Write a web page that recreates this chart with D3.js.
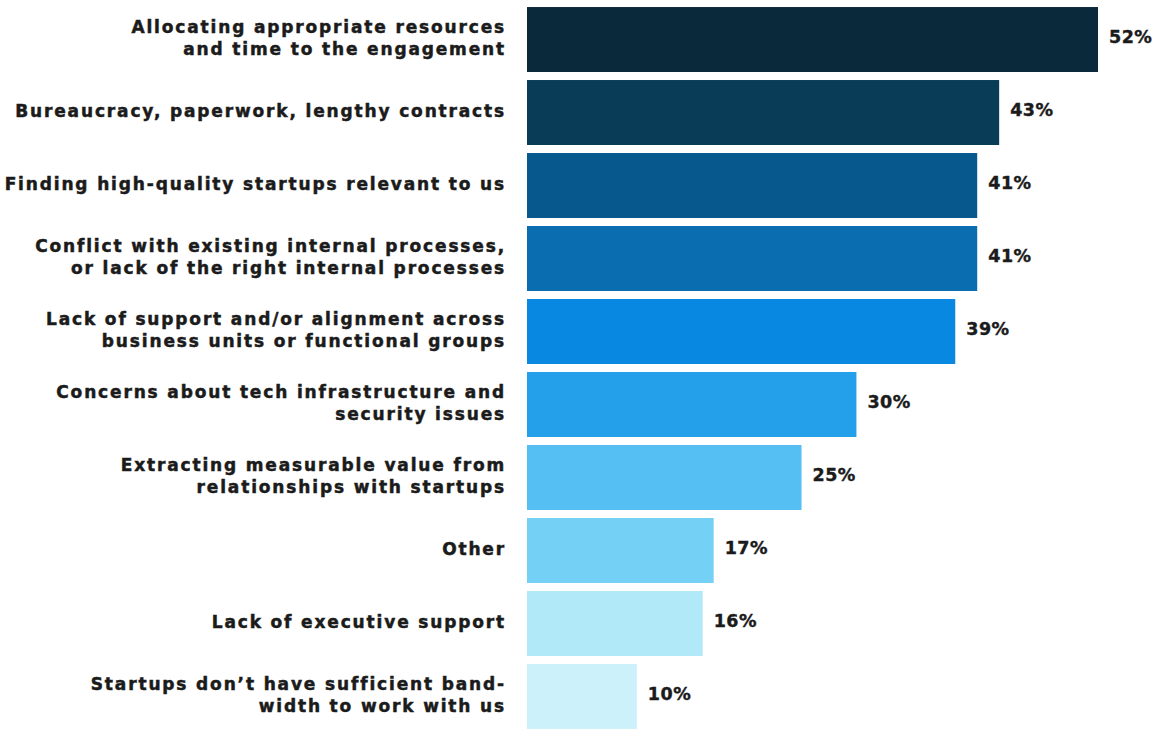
<!DOCTYPE html>
<html>
<head>
<meta charset="utf-8">
<script src="https://cdn.jsdelivr.net/npm/d3@7"></script>
<style>
  html, body { margin: 0; padding: 0; background: #ffffff; }
  svg { display: block; }
  .cat { font-family: "DejaVu Sans", sans-serif; font-weight: bold; font-size: 17px; fill: #1b1b1b; stroke: #1b1b1b; stroke-width: 0.5px; letter-spacing: 1.85px; }
  .val { font-family: "DejaVu Sans", sans-serif; font-weight: bold; font-size: 17.5px; fill: #1b1b1b; stroke: #1b1b1b; stroke-width: 0.4px; letter-spacing: 0.5px; }
</style>
</head>
<body>
<svg id="chart" width="1161" height="730"></svg>
<script>
// Challenges in working with startups (share of respondents)
const categories = [
  ["Allocating appropriate resources", "and time to the engagement"],
  ["Bureaucracy, paperwork, lengthy contracts"],
  ["Finding high-quality startups relevant to us"],
  ["Conflict with existing internal processes,", "or lack of the right internal processes"],
  ["Lack of support and/or alignment across", "business units or functional groups"],
  ["Concerns about tech infrastructure and", "security issues"],
  ["Extracting measurable value from", "relationships with startups"],
  ["Other"],
  ["Lack of executive support"],
  ["Startups don\u2019t have sufficient band-", "width to work with us"]
];
const values = [52, 43, 41, 41, 39, 30, 25, 17, 16, 10];
const barColors = [
  "#0a2a3b", "#083c57", "#07588c", "#0a6db0", "#0888e0",
  "#249fe9", "#55bef3", "#75d0f6", "#b2e9f8", "#cdf1fa"
];

const svg = d3.select("#chart");
const x0 = 527;
const x = d3.scaleLinear().domain([0, 52]).range([x0, 1098]);
const keys = categories.map((c, i) => i);
const y = d3.scaleBand().domain(keys).range([-1, 737]).paddingInner(0.11).paddingOuter(0.11);

const rows = svg.selectAll("g.row").data(keys).join("g").attr("class", "row");

rows.append("rect")
  .attr("x", x(0))
  .attr("y", i => y(i))
  .attr("width", i => x(values[i]) - x(0))
  .attr("height", y.bandwidth())
  .attr("fill", i => barColors[i]);

// Category labels, right-aligned against the bars
const labelX = 506;
rows.each(function(i) {
  const lines = categories[i];
  const cy = y(i) + y.bandwidth() / 2 - 1;
  const lh = 22;
  const t = d3.select(this).append("text")
    .attr("class", "cat")
    .attr("text-anchor", "end")
    .attr("x", labelX);
  lines.forEach((ln, k) => {
    t.append("tspan")
      .attr("x", labelX)
      .attr("y", cy + (k - (lines.length - 1) / 2) * lh)
      .attr("dy", "0.35em")
      .text(ln);
  });
});

// Value labels
rows.append("text")
  .attr("class", "val")
  .attr("x", i => x(values[i]) + 11)
  .attr("y", i => y(i) + y.bandwidth() / 2 - 3)
  .attr("dy", "0.35em")
  .text(i => values[i] + "%");
</script>
</body>
</html>
